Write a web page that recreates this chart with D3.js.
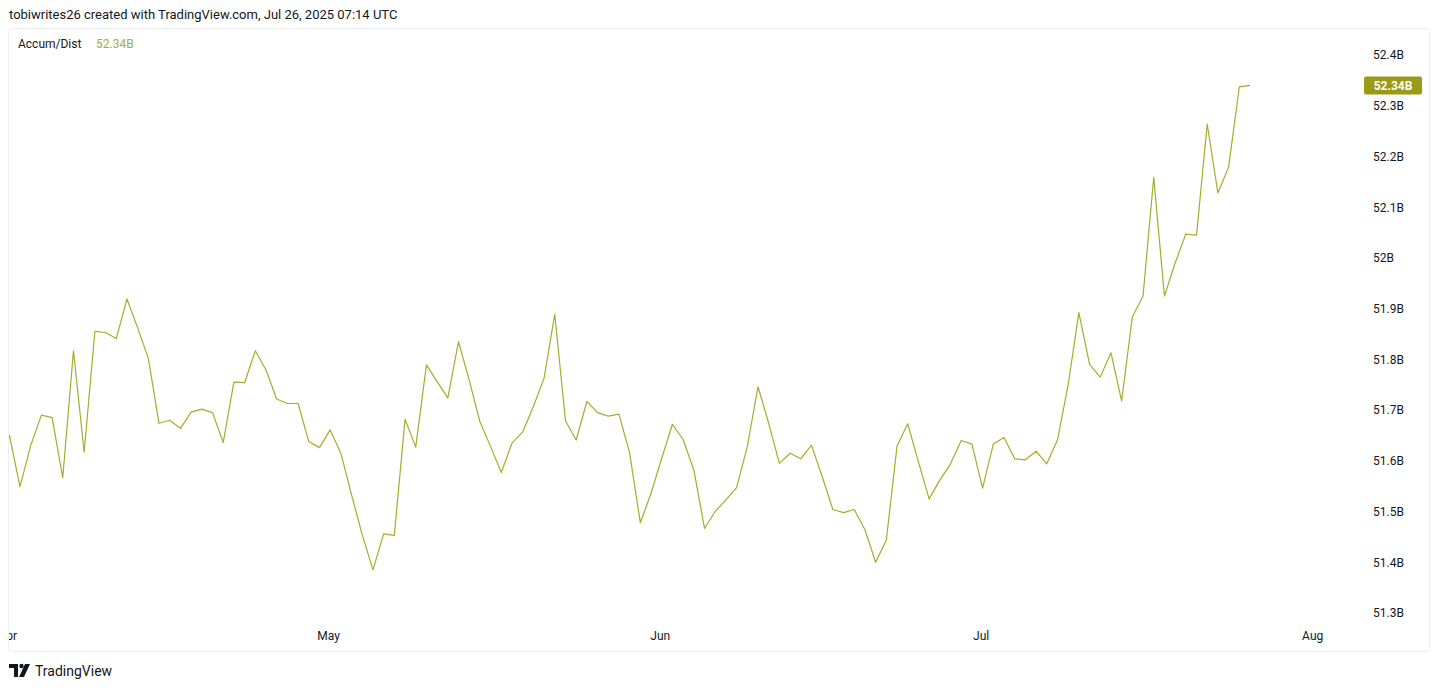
<!DOCTYPE html>
<html>
<head>
<meta charset="utf-8">
<script src="https://cdn.jsdelivr.net/npm/d3@7"></script>
<style>
  html, body { margin: 0; padding: 0; background: #ffffff; }
  svg { display: block; }
</style>
</head>
<body>
<svg id="chart" width="1437" height="690"></svg>
<script>
// ---- data ----
const startDate = "2025-04-01"; // daily points, consecutive days
const adValues = [
  51.651, 51.549, 51.630, 51.690, 51.685, 51.567, 51.817, 51.617, 51.855, 51.853,
  51.841, 51.919, 51.862, 51.802, 51.674, 51.680, 51.664, 51.696, 51.702, 51.695,
  51.636, 51.755, 51.754, 51.817, 51.779, 51.722, 51.713, 51.713, 51.638, 51.626,
  51.661, 51.615, 51.533, 51.454, 51.385, 51.456, 51.453, 51.682, 51.627, 51.789,
  51.756, 51.724, 51.835, 51.759, 51.677, 51.628, 51.577, 51.635, 51.657, 51.707,
  51.763, 51.889, 51.679, 51.641, 51.717, 51.695, 51.688, 51.692, 51.615, 51.478,
  51.536, 51.605, 51.672, 51.642, 51.582, 51.467, 51.500, 51.523, 51.547, 51.628,
  51.746, 51.674, 51.595, 51.615, 51.604, 51.631, 51.569, 51.504, 51.498, 51.504,
  51.464, 51.400, 51.444, 51.629, 51.673, 51.598, 51.525, 51.562, 51.594, 51.640,
  51.633, 51.546, 51.633, 51.646, 51.604, 51.602, 51.619, 51.594, 51.641, 51.750,
  51.892, 51.790, 51.765, 51.813, 51.718, 51.884, 51.925, 52.159, 51.925, 51.990,
  52.047, 52.045, 52.264, 52.128, 52.179, 52.337, 52.340
];
const yTickValues = [51.3, 51.4, 51.5, 51.6, 51.7, 51.8, 51.9, 52.0, 52.1, 52.2, 52.3, 52.4];
const xTickDates = ["2025-04-01", "2025-05-01", "2025-06-01", "2025-07-01", "2025-08-01"];
const xTickLabels = ["Apr", "May", "Jun", "Jul", "Aug"];
const lastLabel = "52.34B";
const headerText = "tobiwrites26 created with TradingView.com, Jul 26, 2025 07:14 UTC";
const indicatorName = "Accum/Dist";

// ---- setup ----
const lineColor = "#a2ae2c";
const boxColor = "#9a9a16";
const textColor = "#131722";
const fontFam = "'Trebuchet MS', Roboto, 'Liberation Sans', Arial, sans-serif";

const svg = d3.select("#chart");
const parse = d3.utcParse("%Y-%m-%d");
const t0 = parse(startDate);
const points = adValues.map((v, i) => ({ date: d3.utcDay.offset(t0, i), value: v }));

const frame = { left: 8, top: 28, right: 1430, bottom: 652 };
const plotRight = 1350;

const x = d3.scaleUtc()
  .domain([t0, points[points.length - 1].date])
  .range([9.3, 1250]);
const y = d3.scaleLinear().domain([51.3, 52.4]).range([613, 55]);

// header
svg.append("text")
  .attr("x", 9).attr("y", 19)
  .attr("font-family", fontFam).attr("font-size", 13)
  .attr("fill", textColor)
  .text(headerText);

// frame
svg.append("rect")
  .attr("x", frame.left + 0.5).attr("y", frame.top + 0.5)
  .attr("width", frame.right - frame.left - 1).attr("height", frame.bottom - frame.top - 1)
  .attr("fill", "#ffffff").attr("stroke", "#eceef2").attr("stroke-width", 1).attr("rx", 3);

// clips
const defs = svg.append("defs");
defs.append("clipPath").attr("id", "plotClip")
  .append("rect").attr("x", frame.left + 1).attr("y", frame.top + 1)
  .attr("width", plotRight - frame.left - 1).attr("height", 620 - frame.top);
defs.append("clipPath").attr("id", "axisClip")
  .append("rect").attr("x", frame.left + 1).attr("y", 620)
  .attr("width", plotRight - frame.left).attr("height", 31);

// line
const line = d3.line().x(d => x(d.date)).y(d => y(d.value));
svg.append("path")
  .datum(points)
  .attr("clip-path", "url(#plotClip)")
  .attr("fill", "none")
  .attr("stroke", lineColor)
  .attr("stroke-width", 1.2)
  .attr("stroke-linejoin", "round")
  .attr("d", line);

// y axis (right)
const yAxis = d3.axisRight(y)
  .tickValues(yTickValues)
  .tickSize(0)
  .tickPadding(0)
  .tickFormat(d => d3.format(".1f")(d).replace(/\.0$/, "") + "B");
const gy = svg.append("g").attr("transform", "translate(1373,0)").call(yAxis);
gy.select(".domain").remove();
gy.selectAll("text")
  .attr("font-family", fontFam).attr("font-size", 12).attr("fill", textColor);

// x axis (bottom)
const xAxis = d3.axisBottom(x)
  .tickValues(xTickDates.map(parse))
  .tickSize(0)
  .tickPadding(0)
  .tickFormat((d, i) => xTickLabels[i]);
const gxWrap = svg.append("g").attr("clip-path", "url(#axisClip)");
const gx = gxWrap.append("g").attr("transform", "translate(-2,631)").call(xAxis);
gx.select(".domain").remove();
gx.selectAll("text")
  .attr("font-family", fontFam).attr("font-size", 12).attr("fill", textColor);

// legend
const leg = svg.append("g").attr("font-family", fontFam).attr("font-size", 12);
leg.append("text").attr("x", 18).attr("y", 48).attr("fill", textColor).text(indicatorName);
leg.append("text").attr("x", 96).attr("y", 48).attr("fill", lineColor).text(lastLabel);

// last value label
const lastY = y(adValues[adValues.length - 1]);
svg.append("rect")
  .attr("x", 1364).attr("y", lastY - 9)
  .attr("width", 58).attr("height", 18).attr("rx", 2)
  .attr("fill", boxColor);
svg.append("text")
  .attr("x", 1393).attr("y", lastY + 4.5)
  .attr("text-anchor", "middle")
  .attr("font-family", fontFam).attr("font-size", 12).attr("font-weight", "bold")
  .attr("fill", "#ffffff")
  .text(lastLabel);

// footer logo
const logo = svg.append("g").attr("transform", "translate(9,663)");
logo.append("path")
  .attr("d", "M0 1 H9 V14 H5 V5 H0 Z")
  .attr("fill", textColor);
logo.append("circle").attr("cx", 12.5).attr("cy", 3).attr("r", 2.2).attr("fill", textColor);
logo.append("path")
  .attr("d", "M16 1 H21 L15 14 H10 Z")
  .attr("fill", textColor);
svg.append("text")
  .attr("x", 35).attr("y", 676)
  .attr("font-family", fontFam).attr("font-size", 14)
  .attr("fill", textColor)
  .text("TradingView");
</script>
</body>
</html>
